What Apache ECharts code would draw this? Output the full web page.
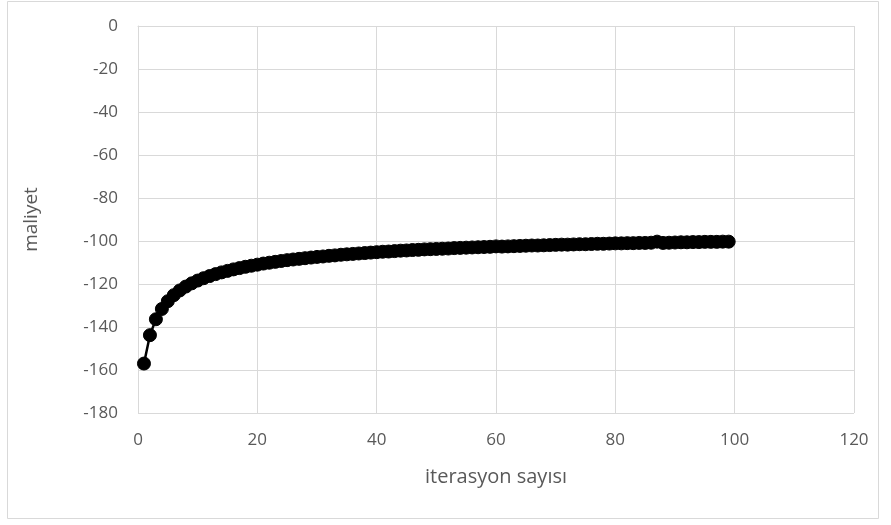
<!DOCTYPE html>
<html>
<head>
<meta charset="utf-8">
<script src="https://cdn.jsdelivr.net/npm/echarts@6/dist/echarts.min.js"></script>
<style>
  html, body { margin: 0; padding: 0; background: #ffffff; }
  #chart { width: 891px; height: 525px; }
</style>
</head>
<body>
<div id="chart"></div>
<script>
// Cost per iteration of the optimisation run
const iterations = [
  1, 2, 3, 4, 5, 6, 7, 8, 9, 10,
  11, 12, 13, 14, 15, 16, 17, 18, 19, 20,
  21, 22, 23, 24, 25, 26, 27, 28, 29, 30,
  31, 32, 33, 34, 35, 36, 37, 38, 39, 40,
  41, 42, 43, 44, 45, 46, 47, 48, 49, 50,
  51, 52, 53, 54, 55, 56, 57, 58, 59, 60,
  61, 62, 63, 64, 65, 66, 67, 68, 69, 70,
  71, 72, 73, 74, 75, 76, 77, 78, 79, 80,
  81, 82, 83, 84, 85, 86, 87, 88, 89, 90,
  91, 92, 93, 94, 95, 96, 97, 98, 99
];
const costs = [
  -157.0, -143.8, -136.4, -131.6, -128.0, -125.2, -123.0, -121.2, -119.7, -118.4,
  -117.3, -116.3, -115.4, -114.6, -113.9, -113.2, -112.6, -112.0, -111.5, -111.0,
  -110.5, -110.1, -109.7, -109.3, -108.9, -108.6, -108.3, -108.0, -107.7, -107.4,
  -107.2, -106.9, -106.7, -106.4, -106.2, -106.0, -105.8, -105.6, -105.4, -105.2,
  -105.0, -104.9, -104.7, -104.5, -104.4, -104.2, -104.1, -103.9, -103.8, -103.7,
  -103.6, -103.5, -103.3, -103.2, -103.1, -103.0, -102.9, -102.8, -102.7, -102.5,
  -102.6, -102.5, -102.4, -102.3, -102.2, -102.1, -102.1, -102.0, -101.9, -101.8,
  -101.7, -101.7, -101.6, -101.5, -101.5, -101.4, -101.3, -101.3, -101.2, -101.1,
  -101.1, -101.0, -101.0, -100.9, -100.9, -100.8, -100.3, -100.9, -100.8, -100.7,
  -100.6, -100.6, -100.5, -100.5, -100.4, -100.4, -100.4, -100.3, -100.3
];
const xTitle = 'iterasyon sayısı';
const yTitle = 'maliyet';

const points = iterations.map((it, i) => [it, costs[i]]);

const textColor = '#595959';
const gridColor = '#d9d9d9';
const fontFamily = '"Open Sans", "Noto Sans", sans-serif';

const chart = echarts.init(document.getElementById('chart'), null, { renderer: 'canvas' });
chart.setOption({
  animation: false,
  backgroundColor: '#ffffff',
  graphic: [{
    type: 'rect',
    shape: { x: 7.5, y: 1.5, width: 871, height: 517 },
    style: { fill: 'none', stroke: gridColor, lineWidth: 1 },
    silent: true
  }],
  grid: { left: 138, right: 37, top: 26, bottom: 112 },
  xAxis: {
    type: 'value',
    min: 0, max: 120, interval: 20,
    name: xTitle,
    nameLocation: 'middle',
    nameGap: 54,
    nameTextStyle: { color: textColor, fontSize: 20, fontFamily },
    axisLine: { show: true, lineStyle: { color: gridColor, width: 1 } },
    axisTick: { show: false },
    axisLabel: { color: textColor, fontSize: 17, fontFamily, margin: 19 },
    splitLine: { show: true, lineStyle: { color: gridColor, width: 1 } }
  },
  yAxis: {
    type: 'value',
    min: -180, max: 0, interval: 20,
    name: yTitle,
    nameLocation: 'middle',
    nameGap: 97,
    nameRotate: 90,
    nameTextStyle: { color: textColor, fontSize: 19, fontFamily },
    axisLine: { show: true, lineStyle: { color: gridColor, width: 1 } },
    axisTick: { show: false },
    axisLabel: { color: textColor, fontSize: 17, fontFamily, margin: 20 },
    splitLine: { show: true, lineStyle: { color: gridColor, width: 1 } }
  },
  series: [{
    type: 'line',
    data: points,
    symbol: 'circle',
    symbolSize: 13,
    showAllSymbol: true,
    lineStyle: { color: '#000000', width: 2.5 },
    itemStyle: { color: '#000000', borderColor: '#000000' }
  }]
});
</script>
</body>
</html>
